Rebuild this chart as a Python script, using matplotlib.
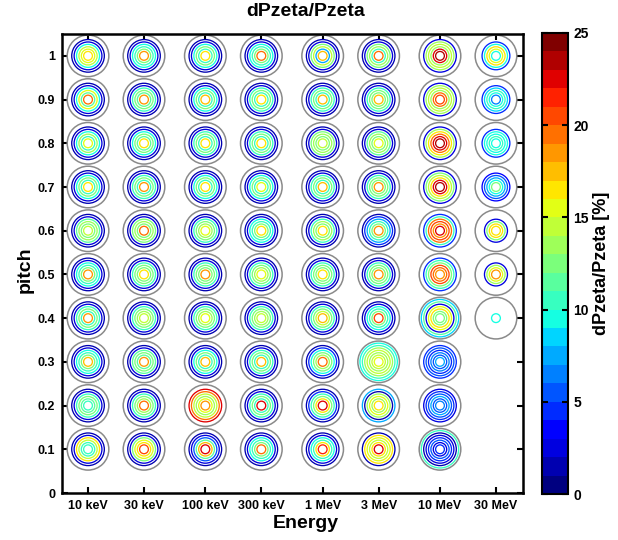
import numpy as np
import matplotlib
matplotlib.use('Agg')
import matplotlib.pyplot as plt
from matplotlib.colors import Normalize
from matplotlib.cm import ScalarMappable

plt.rcParams['font.family'] = ['Liberation Sans', 'DejaVu Sans']
plt.rcParams['font.weight'] = 'bold'

N = np.nan

energies_keV = [10, 30, 100, 300, 1000, 3000, 10000, 30000]
energy_labels = ['10 keV', '30 keV', '100 keV', '300 keV', '1 MeV', '3 MeV', '10 MeV', '30 MeV']
pitches = [1.0, 0.9, 0.8, 0.7, 0.6, 0.5, 0.4, 0.3, 0.2, 0.1]
pitch_ticks = [0, 0.1, 0.2, 0.3, 0.4, 0.5, 0.6, 0.7, 0.8, 0.9, 1.0]
pitch_labels = ['0', '0.1', '0.2', '0.3', '0.4', '0.5', '0.6', '0.7', '0.8', '0.9', '1']
cbar_ticks = [0, 5, 10, 15, 20, 25]

# ring values dPzeta/Pzeta [%], outer -> inner ring, one row per pitch (1.0 ... 0.1)
rings_10keV = [
    [N, 1, 2, 9, 14, 15, 16],
    [N, 1, 2, 9, 15, 11, 19],
    [N, 1, 2, 9, 13, 10, 15],
    [N, 1, 2, 9, 12, 10, 16],
    [N, 1, 2, 11, 13, 12, 14],
    [N, 1, 2, 9, 10, 12, 18],
    [N, 1, 2, 10, 12, 10, 18],
    [N, 1, 2, 9, 10, 12, 17],
    [N, 1, 2, 10, 12, 11, 10],
    [N, 1, 2, 16, 14, 10, 10],
]
rings_30keV = [
    [N, 1, 2, 9, 10, 12, 18],
    [N, 1, 2, 10, 12, 11, 18],
    [N, 1, 2, 9, 12, 11, 16],
    [N, 1, 2, 10, 12, 10, 18],
    [N, 1, 2, 12, 13, 12, 19],
    [N, 1, 2, 10, 12, 12, 16],
    [N, 1, 2, 10, 12, 13, 14],
    [N, 1, 2, 11, 12, 11, 18],
    [N, 1, 2, 10, 12, 13, 19],
    [N, 1, 2, 12, 15, 16, 20],
]
rings_100keV = [
    [N, 1, 2, 9, 12, 10, 16],
    [N, 1, 2, 9, 12, 10, 17],
    [N, 1, 2, 10, 12, 10, 16],
    [N, 1, 2, 9, 12, 10, 16],
    [N, 1, 2, 10, 12, 13, 15],
    [N, 1, 2, 10, 12, 12, 18],
    [N, 1, 2, 10, 12, 13, 15],
    [N, 1, 2, 9, 12, 10, 17],
    [N, 22, 19, 14, 13, 15, 18],
    [N, 1, 2, 5, 11, 17, 22],
]
rings_300keV = [
    [N, 1, 2, 9, 10, 12, 19],
    [N, 1, 2, 10, 12, 10, 16],
    [N, 1, 2, 10, 12, 10, 16],
    [N, 1, 2, 9, 12, 10, 15],
    [N, 1, 2, 9, 10, 12, 16],
    [N, 1, 2, 10, 12, 13, 15],
    [N, 1, 2, 10, 12, 13, 14],
    [N, 1, 2, 10, 12, 10, 17],
    [N, 1, 2, 10, 12, 10, 22],
    [N, 1, 2, 9, 10, 12, 19],
]
rings_1MeV = [
    [N, 1, 2, 12, 14, 7, 17],
    [N, 1, 2, 10, 12, 10, 17],
    [N, 1, 2, 12, 13, 12, 14],
    [N, 1, 2, 10, 12, 10, 17],
    [N, 1, 2, 10, 13, 12, 16],
    [N, 1, 2, 10, 12, 12, 16],
    [N, 1, 2, 10, 12, 14, 17],
    [N, 1, 4, 9, 12, 13, 19],
    [N, 1, 4, 10, 12, 16, 22],
    [N, 1, 2, 9, 10, 16, 21],
]
rings_3MeV = [
    [N, 1, 2, 12, 13, 10, 19],
    [N, 1, 2, 10, 12, 12, 17],
    [N, 1, 2, 11, 13, 12, 15],
    [N, 1, 2, 10, 12, 12, 18],
    [N, 1, 4, 7, 10, 12, 18],
    [N, 1, 2, 10, 12, 12, 18],
    [N, 1, 2, 9, 10, 12, 20],
    [9, 10, 13, 14, 13, 14, 15],
    [N, 7, 1, 13, 15, 13, 16],
    [N, 1, 16, 15, 14, 16, 22],
]
rings_10MeV = [
    [N, 2, 13, 14, 13, 22, 23],
    [N, 2, 13, 14, 13, 19, 20],
    [N, 2, 13, 16, 19, 22, 23],
    [N, 2, 12, 14, 16, 22, 23],
    [N, 4, 10, 19, 20, 18, 22],
    [N, 4, 10, 12, 20, 19, 18],
    [8, 11, 2, 15, 16, 12, 12],
    [N, 4, 5, 4, 6, 5, 7],
    [N, 2, 4, 5, 7, 5, 6],
    [10, 1, 2, 4, 5, 2, 4],
]
rings_30MeV = [
    [N, N, 4, 9, 16, 15, 9],
    [N, N, 4, 8, 10, 9, 6],
    [N, N, 4, 9, 9, 10, 9],
    [N, N, 3, 5, 7, 9, 12],
    [N, N, N, 2, 12, 16, 16],
    [N, N, N, 2, 13, 15, 18],
    [N, N, N, N, N, N, 9],
    None,
    None,
    None,
]
all_rings = [rings_10keV, rings_30keV, rings_100keV, rings_300keV,
             rings_1MeV, rings_3MeV, rings_10MeV, rings_30MeV]

ring_radius_px = [18.7, 16.3, 13.9, 11.5, 9.1, 6.7, 4.4]
grey_radius_px = 20.8
DPI = 100

def size_from_radius(r_px):
    return (2 * r_px * 72.0 / DPI) ** 2

cmap = plt.get_cmap('jet', 25)
norm = Normalize(vmin=0, vmax=25)

fig = plt.figure(figsize=(6.18, 5.4), dpi=DPI)
ax = fig.add_axes([62 / 618, 47 / 540, 461 / 618, 459 / 540])
ax.set_xscale('log')

# grey outer circles
gx, gy = [], []
for e, col in zip(energies_keV, all_rings):
    for p, row in zip(pitches, col):
        if row is not None:
            gx.append(e)
            gy.append(p)
ax.scatter(gx, gy, s=size_from_radius(grey_radius_px), facecolors='none',
           edgecolors='#8a8a8a', linewidths=1.1, zorder=2, clip_on=False)

# coloured rings
for k, r in enumerate(ring_radius_px):
    xs, ys, vs = [], [], []
    for e, col in zip(energies_keV, all_rings):
        for p, row in zip(pitches, col):
            if row is not None and not np.isnan(row[k]):
                xs.append(e)
                ys.append(p)
                vs.append(row[k])
    if xs:
        ax.scatter(xs, ys, s=size_from_radius(r), facecolors='none',
                   edgecolors=cmap(norm(np.array(vs))), linewidths=0.95,
                   zorder=3, clip_on=False)

ax.set_xlim(6.0, 51000)
ax.set_ylim(0, 1.05)
ax.set_xticks(energies_keV)
ax.set_xticklabels(energy_labels)
ax.xaxis.set_minor_locator(matplotlib.ticker.NullLocator())
ax.set_yticks(pitch_ticks)
ax.set_yticklabels(pitch_labels)
ax.tick_params(axis='both', which='major', direction='in', length=4.5, width=1.5,
               top=True, right=True, labelsize=9, pad=5)
for lab in ax.get_xticklabels() + ax.get_yticklabels():
    lab.set_fontweight('bold')
for sp in ax.spines.values():
    sp.set_linewidth(1.8)

fig.text(306 / 618, 1 - 12 / 540, 'dPzeta/Pzeta', ha='center', va='center',
         fontsize=14, fontweight='bold')
fig.text(306 / 618, 1 - 523 / 540, 'Energy', ha='center', va='center',
         fontsize=14, fontweight='bold')
fig.text(25 / 618, 1 - 270 / 540, 'pitch', ha='center', va='center',
         rotation=90, fontsize=14, fontweight='bold')

cax = fig.add_axes([542 / 618, 46 / 540, 26 / 618, 461 / 540])
cb = fig.colorbar(ScalarMappable(norm=norm, cmap=cmap), cax=cax, ticks=cbar_ticks)
cb.outline.set_linewidth(1.5)
cax.tick_params(direction='in', length=4, width=1.5, left=True, right=True,
                labelsize=10, pad=4)
for lab in cax.get_yticklabels():
    lab.set_fontweight('bold')
fig.text(601 / 618, 1 - 263 / 540, 'dPzeta/Pzeta [%]', ha='center', va='center',
         rotation=90, fontsize=13, fontweight='bold')

fig.savefig('out.png', dpi=DPI)
